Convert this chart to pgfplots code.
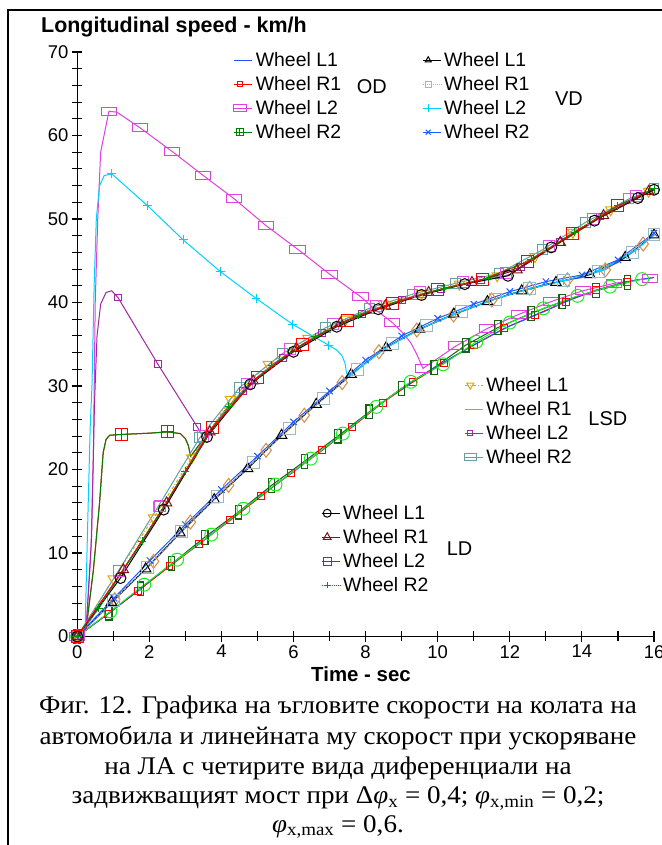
\documentclass[border=0pt]{standalone}
\usepackage{fontspec}
\setmainfont[FakeStretch=1.065]{Liberation Serif}
\newfontfamily\arialf{Liberation Sans}
\usepackage{pgfplots}
\pgfplotsset{compat=1.18}
\usepackage{pgfplotstable}

\definecolor{odblue}{RGB}{40,80,255}
\definecolor{odred}{RGB}{255,0,0}
\definecolor{odmag}{RGB}{224,64,224}
\definecolor{odgreen}{RGB}{0,128,0}
\definecolor{vdgray}{RGB}{150,185,195}
\definecolor{vdcyan}{RGB}{0,210,255}
\definecolor{vdblue}{RGB}{30,90,255}
\definecolor{lsdgold}{RGB}{220,170,0}
\definecolor{lsdlav}{RGB}{150,150,200}
\definecolor{lsdpurp}{RGB}{160,40,160}
\definecolor{lsdteal}{RGB}{100,160,165}
\definecolor{lddred}{RGB}{128,20,20}
\definecolor{ldgreen}{RGB}{0,150,0}
\definecolor{exorange}{RGB}{210,140,70}
\definecolor{exlgreen}{RGB}{30,235,30}
\definecolor{exdgreen}{RGB}{20,100,20}
\definecolor{exmag}{RGB}{230,80,230}

\pgfdeclareplotmark{widerect}{%
  \pgfpathrectangle{\pgfqpoint{-1.9\pgfplotmarksize}{-\pgfplotmarksize}}{\pgfqpoint{3.8\pgfplotmarksize}{2\pgfplotmarksize}}%
  \pgfusepathqstroke}
\pgfdeclareplotmark{tallrect}{%
  \pgfpathrectangle{\pgfqpoint{-0.45\pgfplotmarksize}{-\pgfplotmarksize}}{\pgfqpoint{0.9\pgfplotmarksize}{2\pgfplotmarksize}}%
  \pgfusepathqstroke}
\pgfdeclareplotmark{boxplus}{%
  \pgfpathrectangle{\pgfqpoint{-\pgfplotmarksize}{-\pgfplotmarksize}}{\pgfqpoint{2\pgfplotmarksize}{2\pgfplotmarksize}}%
  \pgfpathmoveto{\pgfqpoint{-\pgfplotmarksize}{0pt}}\pgfpathlineto{\pgfqpoint{\pgfplotmarksize}{0pt}}%
  \pgfpathmoveto{\pgfqpoint{0pt}{-\pgfplotmarksize}}\pgfpathlineto{\pgfqpoint{0pt}{\pgfplotmarksize}}%
  \pgfusepathqstroke}

% upper bundle
\pgfplotstableread{
t v
0 0
0.3 1.6
0.6 3.4
1.2 7.5
1.8 11.4
2.4 15.5
3.0 19.8
3.6 24.2
4.2 27.6
4.8 30.3
5.4 32.5
6.0 34.3
6.6 35.9
7.2 37.3
7.8 38.5
8.4 39.4
9.0 40.3
9.6 41.0
10.2 41.7
10.8 42.3
11.4 42.9
12.0 43.3
12.6 45.2
13.2 46.7
13.8 48.4
14.4 50.0
15.0 51.6
15.6 52.7
16.0 53.6
}\tabU
% middle bundle
\pgfplotstableread{
t v
0 0
0.5 2.1
1.0 4.3
1.5 6.4
2.0 8.5
2.5 10.8
3.0 13.1
3.5 15.2
4.0 17.2
4.5 19.2
5.0 21.3
5.5 23.4
6.0 25.4
6.5 27.3
7.0 29.1
7.5 31.0
8.0 32.8
8.5 34.4
9.0 35.7
9.5 36.8
10.0 37.8
10.5 38.7
11.0 39.5
11.5 40.3
12.0 41.0
12.5 41.6
13.0 42.2
13.5 42.6
14.0 43.0
14.5 43.8
15.0 44.8
15.5 46.3
16.0 48.1
}\tabM
% lower bundle
\pgfplotstableread{
t v
0 0
0.5 1.6
1.0 3.2
1.5 4.9
2.0 6.6
2.5 8.3
3.0 9.9
3.5 11.5
4.0 13.2
4.5 14.9
5.0 16.6
5.5 18.2
6.0 19.7
6.5 21.4
7.0 23.0
7.5 24.8
8.0 26.5
8.5 28.1
9.0 29.7
9.5 31.1
10.0 32.4
10.5 33.7
11.0 34.9
11.5 36.1
12.0 37.2
12.5 38.1
13.0 39.0
13.5 40.0
14.0 40.9
14.5 41.6
15.0 42.2
15.5 42.7
16.0 43.0
}\tabL

\pgfplotsset{
  base/.style={
    at={(77.2bp,208.5bp)}, anchor=south west,
    scale only axis, width=576.8bp, height=584.5bp,
    xmin=0, xmax=16, ymin=0, ymax=70,
    clip=false,
    legend cell align=left,
    legend style={draw=none, fill=none, inner sep=0pt, column sep=1bp,
      font=\arialf\fontsize{19.5}{22}\selectfont,
      nodes={inner xsep=2bp, inner ysep=4bp, text height=14bp, text depth=2bp},
      anchor=north west},
    legend image code/.code={\draw[##1,mark indices={2}] plot coordinates {(0bp,0bp) (5.5bp,0bp) (18bp,0bp)};},
    every axis plot/.append style={line width=1bp},
  },
  hidden/.style={base, hide axis},
}

\begin{document}
\begin{tikzpicture}
\useasboundingbox (0,0) rectangle (662bp,845bp);
\fill[white] (0,0) rectangle (662bp,845bp);

% ---------------- OD + extras ----------------
\begin{axis}[base,
  axis lines=left, axis line style={-, line width=1.2bp},
  tick align=center, major tick length=10.5bp, minor tick length=10bp,
  tick style={black, line width=1.1bp},
  xtick={0,2,...,16}, ytick={0,10,...,70},
  minor x tick num=1, minor y tick num=4,
  ticklabel style={font=\arialf\fontsize{18.5}{20}\selectfont},
  /pgf/number format/assume math mode=true,
  legend style={at={(0.2701,1.0068)}}]
% OD L1
\addplot[odblue, no marks] table {\tabU};
\addlegendentry{Wheel L1}
% OD R1
\addplot[odred, mark=square, mark size=6, mark options={solid, line width=1bp},
  mark indices={1,8,10}, legend image post style={mark size=2.5}] coordinates {
(0,0) (0.25,1) (0.45,8) (0.62,16) (0.72,22) (0.8,23.6) (0.9,24.1)
(1.24,24.2) (2.0,24.35) (2.51,24.5) (2.86,24.3) (3.0,23.7) (3.08,22.9) (3.15,21.6)
(3.6,24.2) (4.2,27.6) (4.8,30.3) (5.4,32.5) (6.0,34.3) (6.6,35.9) (7.2,37.3)
(7.8,38.5) (8.4,39.4) (9.0,40.3) (9.6,41.0) (10.2,41.7) (10.8,42.3) (11.4,42.9)
(12.0,43.3) (12.6,45.2) (13.2,46.7) (13.8,48.4) (14.4,50.0) (15.0,51.6) (15.6,52.7) (16.0,53.6)};
\addlegendentry{Wheel R1}
% OD L2
\addplot[odmag, mark=widerect, mark size=4, mark options={solid, line width=1bp},
  mark indices={1,8,10,11,12,13,14,15,16,17,19,24,25,26,27,28,29,30,31},
  legend image post style={mark size=3.5}] coordinates {
(0,0) (0.25,1) (0.38,10) (0.45,22) (0.5,40) (0.57,50) (0.65,58)
(0.88,62.9) (1.1,62.8) (1.75,60.9) (2.63,58.1) (3.5,55.2) (4.36,52.4) (5.24,49.2)
(6.11,46.4) (7.0,43.4) (7.86,40.7) (8.2,39.4) (8.74,37.6) (9.0,36.5) (9.25,35.2)
(9.42,33.8) (9.52,32.8) (9.59,32.1) (10.51,34.8) (11.38,36.9) (12.26,38.6)
(13.14,40.1) (14.02,41.4) (14.9,42.3) (15.9,42.9) (16,43.0)};
\addlegendentry{Wheel L2}
% OD R2
\addplot[odgreen, mark=+, mark size=5.5, mark options={solid, line width=1bp},
  mark indices={8,10}, legend image post style={mark=boxplus, mark size=3.3}] coordinates {
(0,0) (0.25,1) (0.45,8) (0.62,16) (0.72,22) (0.8,23.6) (0.9,24.1)
(1.24,24.2) (2.0,24.35) (2.51,24.5) (2.86,24.3) (3.0,23.7) (3.08,22.9) (3.15,21.6)
(3.6,24.2) (4.2,27.6) (4.8,30.3)};
\addlegendentry{Wheel R2}
% extras, lower bundle
\addplot[exdgreen, mark=tallrect, mark size=7, mark options={solid, line width=1.2bp}, forget plot] coordinates {
(0,0) (0.88,2.8) (1.75,5.7) (2.62,8.7) (3.54,11.9) (4.47,14.9) (5.39,18.1) (6.31,21.0)
(7.23,24.0) (8.1,26.9) (8.99,29.7) (9.9,32.2) (10.78,34.9) (11.67,37.0) (12.59,38.7)
(13.45,40.1) (14.39,41.4) (15.27,42.4)};
\addplot[odred, mark=square, mark size=3.5, mark options={solid}, forget plot] coordinates {
(0,0) (0.85,2.7) (1.7,5.5) (2.56,8.4) (3.39,11.1) (4.24,13.9) (5.1,16.8) (5.94,19.6)
(6.8,22.3) (7.63,25.1) (8.47,28.0) (9.32,30.5) (10.17,32.8) (11.0,34.9) (11.85,36.9)
(12.7,38.5) (13.55,40.1) (14.4,41.5) (15.25,42.5)};
\addplot[odblue, no marks, forget plot] table {\tabL};
\addplot[exlgreen, mark=o, mark size=6.5, mark options={solid}, forget plot] coordinates {
(0,0) (0.92,3.0) (1.86,6.2) (2.77,9.2) (3.72,12.2) (4.61,15.3) (5.5,18.2) (6.48,21.3)
(7.37,24.3) (8.3,27.5) (9.25,30.5) (10.15,32.6) (11.07,35.3) (12.0,37.6) (12.93,39.3)
(13.88,40.8) (14.78,41.9) (15.67,42.8)};
\end{axis}

% ---------------- VD ----------------
\begin{axis}[hidden, legend style={at={(0.5978,1.0068)}}]
\addplot[exorange, mark=diamond, mark size=7, mark options={solid}, forget plot] coordinates {
(0,0) (1.04,4.4) (2.12,9.0) (3.14,13.7) (4.2,18.1) (5.24,22.3) (6.3,26.5) (7.35,30.4)
(8.37,34.1) (9.42,36.7) (10.44,38.5) (11.5,40.3) (12.55,41.7) (13.6,42.7) (14.65,43.9) (15.7,47.0)};
\addplot[vdblue, no marks, forget plot] table {\tabM};
% VD L1
\addplot[black, mark=triangle, mark size=6, mark options={solid}, legend image post style={mark size=3.5}] coordinates {
(0,0) (0.95,4.1) (1.9,8.1) (2.85,12.4) (3.8,16.4) (4.73,20.1) (5.67,24.1) (6.63,27.8)
(7.6,31.4) (8.57,34.6) (9.5,36.8) (10.45,38.6) (11.38,40.1) (12.33,41.4) (13.28,42.4)
(14.22,43.35) (15.2,45.4) (16,48.1)};
\addlegendentry{Wheel L1}
% VD R1
\addplot[vdgray, densely dotted, mark=square, mark size=6, mark options={solid}, legend image post style={mark size=3}] coordinates {
(0,0) (1.0,4.3) (1.95,8.3) (2.9,12.6) (3.9,16.8) (4.88,20.8) (5.88,24.9) (6.83,28.5)
(7.77,32.0) (8.75,35.05) (9.7,37.2) (10.65,38.9) (11.6,40.4) (12.55,41.7) (13.5,42.6)
(14.45,43.7) (15.4,46.0) (16,48.1)};
\addlegendentry{Wheel R1}
% VD L2
\addplot[vdcyan, mark=+, mark size=4.5, mark options={solid},
  mark indices={1,10,11,12,13,14,15,16,22,23,24,25,26,27,28,29},
  legend image post style={mark size=4}] coordinates {
(0,0) (0.22,1) (0.3,15) (0.36,25) (0.41,30) (0.47,42) (0.53,50) (0.62,54) (0.75,55.2)
(0.96,55.4) (1.95,51.6) (2.94,47.5) (3.97,43.7) (4.96,40.5) (5.97,37.4) (6.97,34.9)
(7.2,34.3) (7.35,33.6) (7.43,32.7) (7.47,31.6) (7.52,31.1)
(8.5,34.4) (9.5,36.8) (10.5,38.7) (11.5,40.3) (12.5,41.6) (13.5,42.6) (14.5,43.8) (15.5,46.3) (16,48.1)};
\addlegendentry{Wheel L2}
% VD R2
\addplot[vdblue, mark=x, mark size=4.5, mark options={solid}, legend image post style={mark size=3.5}] coordinates {
(0,0) (1.02,4.6) (2.02,9.1) (3.0,13.4) (4.0,17.6) (5.0,21.6) (6.0,25.7) (7.0,29.4)
(8.0,33.1) (9.0,36.0) (10.0,38.1) (11.0,39.8) (12.0,41.3) (13.0,42.5) (14.0,43.3) (15.0,45.1) (16,48.3)};
\addlegendentry{Wheel R2}
\end{axis}

% ---------------- LSD ----------------
\begin{axis}[hidden, legend style={at={(0.6704,0.4508)}}]
% LSD L1
\addplot[lsdgold, dash dot, mark=triangle, mark size=6, mark options={solid, rotate=180},
  legend image post style={mark size=4}] coordinates {
(0,0) (1.0,6.9) (2.12,14.2) (3.18,21.4) (4.25,28.4) (5.3,32.6) (6.4,35.7) (7.45,38.0)
(8.5,39.8) (9.55,41.1) (10.6,42.2) (11.65,43.2) (12.7,45.5) (13.75,48.4) (14.8,51.1) (15.85,53.3)};
\addlegendentry{Wheel L1}
% LSD R1
\addplot[lsdlav, no marks] table {\tabU};
\addlegendentry{Wheel R1}
% LSD L2
\addplot[lsdpurp, mark=square, mark size=3.5, mark options={solid},
  mark indices={1,9,10,11,13,14,15,16,17,18,19,20,21,22,23},
  legend image post style={mark size=2.5}] coordinates {
(0,0) (0.25,1) (0.4,12) (0.48,28) (0.55,36) (0.65,39.8) (0.8,41.2) (0.96,41.4)
(1.13,40.6) (2.24,32.6) (3.33,25.1) (3.52,23.7) (4.6,29.4) (5.7,33.4) (6.8,36.4)
(7.9,38.65) (9.0,40.3) (10.1,41.6) (11.2,42.7) (12.3,44.25) (13.4,47.3) (14.5,50.3) (15.6,52.7) (16,53.6)};
\addlegendentry{Wheel L2}
% LSD R2
\addplot[lsdteal, mark=square, mark size=5, mark options={solid},
  legend image post style={mark=widerect, mark size=3.3}] coordinates {
(0,0) (1.15,7.9) (2.25,15.6) (3.4,23.8) (4.5,29.8) (5.7,33.9) (6.9,37.0) (8.1,39.3)
(9.3,41.0) (10.5,42.3) (11.7,43.5) (12.9,46.3) (14.1,49.6) (15.3,52.4) (16,53.6)};
\addlegendentry{Wheel R2}
\end{axis}

% ---------------- LD ----------------
\begin{axis}[hidden, legend style={at={(0.4227,0.2318)}}]
\addplot[exmag, only marks, mark=square, mark size=5.5, mark options={solid}, forget plot] coordinates {
(1.15,7.8) (2.3,15.6) (3.5,24.0) (4.7,30.3) (5.9,34.4) (7.1,37.4) (8.3,39.6) (9.5,41.2)
(10.7,42.5) (11.9,43.5) (13.1,46.8) (14.3,50.0) (15.5,52.8)};
% LD L1
\addplot[black, mark=o, mark size=5.5, mark options={solid}, legend image post style={mark size=4}] coordinates {
(0,0) (1.2,7.0) (2.4,15.2) (3.6,23.9) (4.8,30.2) (6.0,34.1) (7.2,37.1) (8.35,39.2)
(9.55,40.9) (10.75,42.2) (11.95,43.2) (13.15,46.6) (14.35,49.8) (15.55,52.5) (16,53.5)};
\addlegendentry{Wheel L1}
% LD R1
\addplot[lddred, mark=triangle, mark size=6, mark options={solid}, legend image post style={mark size=4.5}] coordinates {
(0,0) (1.28,8.0) (2.48,16.0) (3.68,24.5) (4.88,30.6) (6.08,34.5) (7.3,37.5) (8.55,39.6)
(9.75,41.2) (10.95,42.4) (12.2,43.9) (13.4,47.2) (14.6,50.4) (15.85,53.3)};
\addlegendentry{Wheel R1}
% LD L2
\addplot[odred, mark=square, mark size=6, mark options={solid},
  mark indices={1,5,6,7,8,9,10,11,12,13,14}, legend image post style={mark size=4}] coordinates {
(0,0) (1.2,7.5) (2.4,15.5) (3.0,19.8) (3.75,25.05) (5.0,31.0) (6.25,35.0) (7.5,37.9)
(8.75,39.9) (10.0,41.5) (11.25,42.75) (12.5,44.9) (13.75,48.3) (15.0,51.6) (16,53.6)};
\addlegendentry{Wheel L2}
% LD R2
\addplot[ldgreen, densely dotted, mark=+, mark size=4, mark options={solid}, legend image post style={mark size=3}] coordinates {
(0,0) (0.6,3.4) (1.8,11.4) (3.0,19.8) (4.2,27.6) (5.4,32.5) (6.6,35.9) (7.8,38.5)
(9.0,40.3) (10.2,41.7) (11.4,42.9) (12.6,45.2) (13.8,48.4) (15.0,51.6) (16,53.6)};
\addlegendentry{Wheel R2}
\end{axis}

% frame
\draw[line width=2bp] (8bp,0bp) -- (8bp,835bp) -- (662bp,835bp);
% titles and labels
\node[anchor=base west, inner sep=0pt, font=\arialf\bfseries\fontsize{21.5}{24}\selectfont] at (41bp,812bp) {Longitudinal speed - km/h};
\node[anchor=base, inner sep=0pt, font=\arialf\bfseries\fontsize{20.5}{24}\selectfont] at (361bp,163bp) {Time - sec};
\begin{scope}[every node/.style={inner sep=0pt, font=\arialf\fontsize{20}{24}\selectfont}]
\node at (371.7bp,758.3bp) {OD};
\node at (569bp,746.7bp) {VD};
\node at (607.8bp,426.7bp) {LSD};
\node at (459.5bp,296.7bp) {LD};
\end{scope}
% caption
\begin{scope}[every node/.style={anchor=base, inner sep=0pt, font=\fontsize{25.5}{28}\selectfont}]
\node at (338bp,131bp) {Фиг. 12. Графика на ъгловите скорости на колата на};
\node at (338bp,100.5bp) {автомобила и линейната му скорост при ускоряване};
\node at (338bp,70.5bp) {на ЛА с четирите вида диференциали на};
\node at (338bp,41.5bp) {задвижващият мост при Δ\textit{φ}\textsubscript{x} = 0,4; \textit{φ}\textsubscript{x,min} = 0,2;};
\node at (338bp,13bp) {\textit{φ}\textsubscript{x,max} = 0,6.};
\end{scope}
\end{tikzpicture}
\end{document}
